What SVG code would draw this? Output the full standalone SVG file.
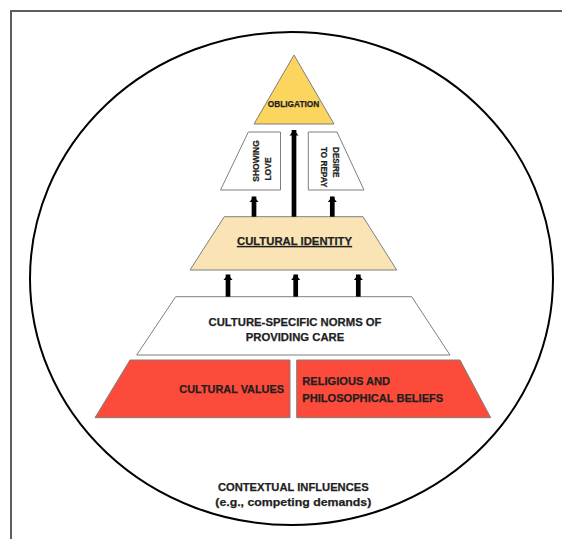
<svg xmlns="http://www.w3.org/2000/svg" width="562" height="539" viewBox="0 0 562 539">
<defs>
<style>
.t{font-family:"Liberation Sans",Arial,sans-serif;font-weight:bold;fill:#1f1f1f;stroke:#1f1f1f;stroke-width:0.25;}
.shape{stroke:#7f7f7f;stroke-width:1;}
.shaft{stroke:#000;stroke-width:4.7;fill:none;}
</style>
<marker id="ah" markerUnits="userSpaceOnUse" markerWidth="12" markerHeight="8" viewBox="0 0 12 8" refX="6" refY="0" orient="0" overflow="visible">
<path d="M6,0 L10.5,5.5 L1.5,5.5 Z" fill="#000"/>
</marker>
</defs>
<rect width="562" height="539" fill="#fff"/>
<polyline points="11,539 11,11 562,11" fill="none" stroke="#5e5e5e" stroke-width="2"/>
<g id="context">
<ellipse cx="291.5" cy="278.5" rx="261.5" ry="246.5" fill="none" stroke="#000" stroke-width="2"/>
<text class="t" x="293.3" y="490.6" font-size="11.2" text-anchor="middle">CONTEXTUAL INFLUENCES</text>
<text class="t" x="293.3" y="506.3" font-size="11.5" text-anchor="middle" textLength="156" lengthAdjust="spacingAndGlyphs">(e.g., competing demands)</text>
</g>
<g id="obligation">
<polygon class="shape" points="294,55 254,124 334,124" fill="#FBD55E"/>
<text class="t" x="293.5" y="107.2" font-size="8.3" text-anchor="middle">OBLIGATION</text>
</g>
<g id="showing-love">
<polygon class="shape" points="248.3,132 280.5,132 280.5,190 220.5,190" fill="#fff"/>
<text class="t" font-size="8.5" text-anchor="middle" transform="translate(259.3,161) rotate(-90)">SHOWING</text>
<text class="t" font-size="8.5" text-anchor="middle" transform="translate(271,169) rotate(-90)">LOVE</text>
</g>
<g id="desire-to-repay">
<polygon class="shape" points="308.3,132 337,132 364,190 308.3,190" fill="#fff"/>
<text class="t" font-size="8.2" transform="translate(333,147) rotate(90)">DESIRE</text>
<text class="t" font-size="8.2" transform="translate(320.5,147) rotate(90)">TO REPAY</text>
</g>
<g id="cultural-identity">
<polygon class="shape" points="224.3,216.7 363,216.7 396.7,270 190,270" fill="#FAE4B5"/>
<text class="t" x="294.5" y="245" font-size="11.3" text-anchor="middle" text-decoration="underline">CULTURAL IDENTITY</text>
</g>
<g id="norms">
<polygon class="shape" points="175.7,296.7 411.7,296.7 450,355 136.7,355" fill="#fff"/>
<text class="t" x="295" y="325.6" font-size="11.3" text-anchor="middle">CULTURE-SPECIFIC NORMS OF</text>
<text class="t" x="295" y="341.2" font-size="11.3" text-anchor="middle">PROVIDING CARE</text>
</g>
<g id="cultural-values">
<polygon class="shape" points="130,360 290,360 290,417.7 95,417.7" fill="#FD4B3B"/>
<text class="t" x="284" y="393.2" font-size="10.9" text-anchor="end">CULTURAL VALUES</text>
</g>
<g id="religious-beliefs">
<polygon class="shape" points="296.7,360 460,360 490.7,417.7 296.7,417.7" fill="#FD4B3B"/>
<text class="t" x="302.3" y="384.6" font-size="11.1">RELIGIOUS AND</text>
<text class="t" x="302.3" y="402.2" font-size="11.1">PHILOSOPHICAL BELIEFS</text>
</g>
<g id="connectors">
<line class="shaft" x1="294" y1="216.7" x2="294" y2="130" marker-end="url(#ah)"/>
<line class="shaft" x1="254" y1="216.7" x2="254" y2="196.5" marker-end="url(#ah)"/>
<line class="shaft" x1="332.3" y1="216.7" x2="332.3" y2="196.5" marker-end="url(#ah)"/>
<line class="shaft" x1="228" y1="296.7" x2="228" y2="274.5" marker-end="url(#ah)"/>
<line class="shaft" x1="295.7" y1="296.7" x2="295.7" y2="274.5" marker-end="url(#ah)"/>
<line class="shaft" x1="358.3" y1="296.7" x2="358.3" y2="274.5" marker-end="url(#ah)"/>
</g>
</svg>
